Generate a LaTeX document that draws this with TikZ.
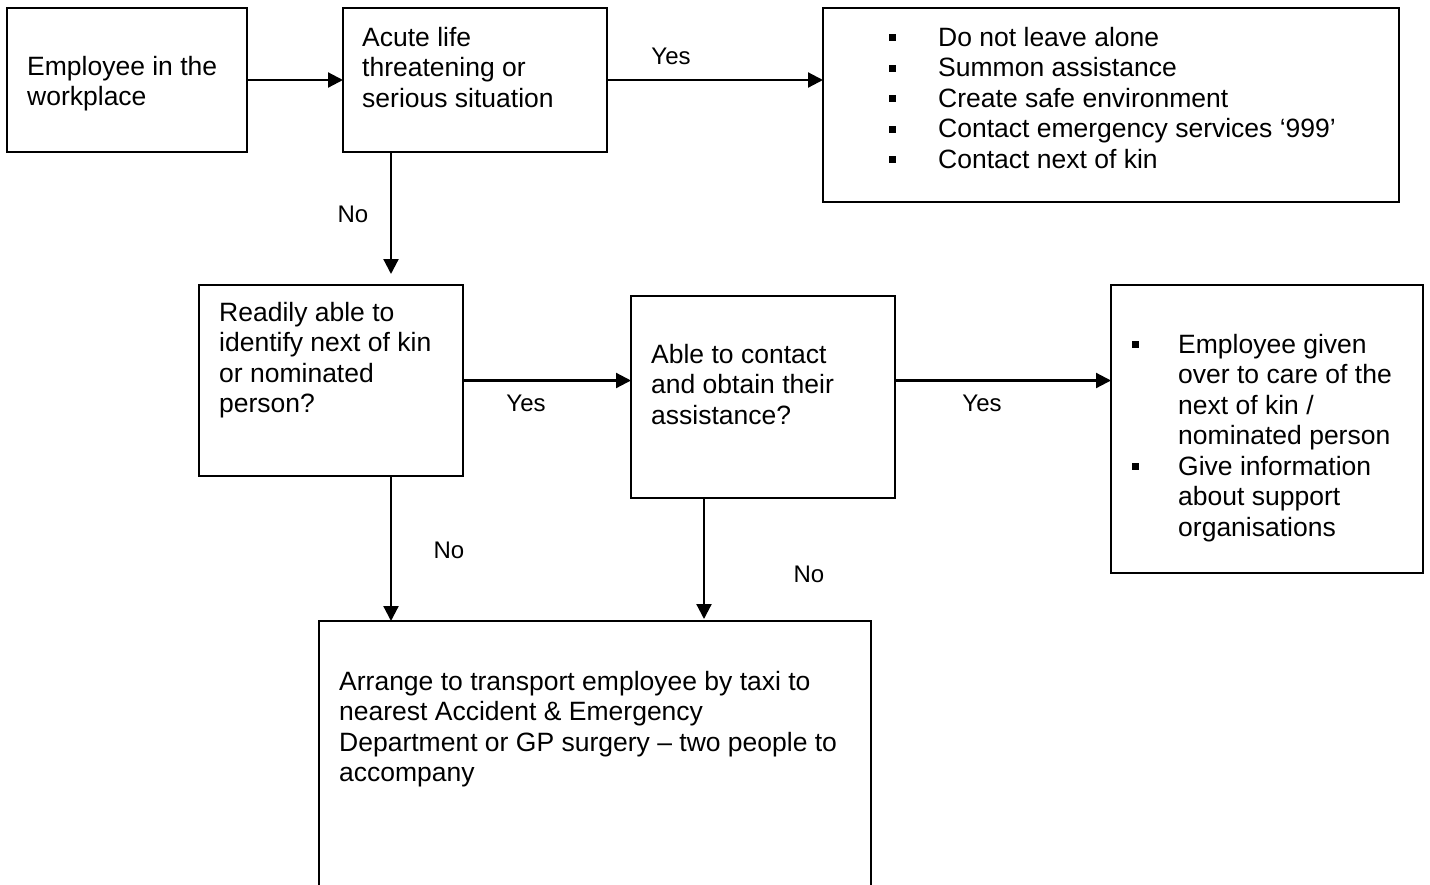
\documentclass[tikz,border=0pt]{standalone}
\usepackage{fontspec}
\setmainfont{Liberation Sans}
\usetikzlibrary{arrows.meta,calc}
\newcommand\mybul{\rule[5pt]{7pt}{7pt}}
\tikzset{
  box/.style={draw, line width=2pt, rectangle, anchor=north west, inner sep=0pt, outer sep=0pt},
  txt/.style={anchor=base west, inner sep=0pt, font=\fontsize{26.5}{30.5}\selectfont},
  lbl/.style={anchor=base, inner sep=0pt, font=\fontsize{24}{28}\selectfont},
  conn/.style={line width=2.2pt, -{Triangle[length=15pt,width=15pt]}},
}
\begin{document}
\begin{tikzpicture}[x=1pt,y=-1pt]
\useasboundingbox (0,0) rectangle (1430,884);
\clip (0,0) rectangle (1430,884);
% boxes
\node[box, minimum width=240pt, minimum height=144pt] (A) at (7,8) {};
\node[box, minimum width=264pt, minimum height=144pt] (B) at (343,8) {};
\node[box, minimum width=576pt, minimum height=194pt] (C) at (823,8) {};
\node[box, minimum width=264pt, minimum height=191pt] (D) at (199,285) {};
\node[box, minimum width=264pt, minimum height=202pt] (E) at (631,296) {};
\node[box, minimum width=312pt, minimum height=288pt] (F) at (1111,285) {};
\node[box, minimum width=552pt, minimum height=300pt] (G) at (319,621) {};
% texts
\node[txt] (At) at (27,75) {\parbox[t]{215pt}{Employee in the\\workplace}};
\node[txt] (Bt) at (362,46) {\parbox[t]{240pt}{Acute life\\threatening or\\serious situation}};
\node[txt] (Ct) at (889,46) {\begin{tabular}[t]{@{}l@{\hspace{42pt}}l@{}}
\mybul & Do not leave alone\\
\mybul & Summon assistance\\
\mybul & Create safe environment\\
\mybul & Contact emergency services `999'\\
\mybul & Contact next of kin
\end{tabular}};
\node[txt] (Dt) at (219,321) {\parbox[t]{240pt}{Readily able to\\identify next of kin\\or nominated\\person?}};
\node[txt] (Et) at (651,363) {\parbox[t]{240pt}{Able to contact\\and obtain their\\assistance?}};
\node[txt] (Ft) at (1132,353) {\begin{tabular}[t]{@{}l@{\hspace{39pt}}l@{}}
\mybul & Employee given\\
 & over to care of the\\
 & next of kin /\\
 & nominated person\\
\mybul & Give information\\
 & about support\\
 & organisations
\end{tabular}};
\node[txt] (Gt) at (339,690) {\parbox[t]{540pt}{Arrange to transport employee by taxi to\\nearest Accident \& Emergency\\Department or GP surgery -- two people to\\accompany}};
% labels
\node[lbl] (l1) at (671,64) {Yes};
\node[lbl] (l2) at (353,222) {No};
\node[lbl] (l3) at (526,411) {Yes};
\node[lbl] (l4) at (982,411) {Yes};
\node[lbl] (l5) at (449,558) {No};
\node[lbl] (l6) at (809,582) {No};
% connectors
\draw[conn] (A.east) -- (B.west);
\draw[conn] (B.east) -- (B.east -| C.west);
\draw[conn] ($(B.south west)+(48,0)$) -- ($(D.north west)+(192,-11)$);
\draw[conn] (D.east) -- (D.east -| E.west);
\draw[conn] (E.east |- D.east) -- (F.west |- D.east);
\draw[conn] ($(D.south west)+(192,0)$) -- ($(G.north west)+(72,0)$);
\draw[conn] ($(E.south west)+(73,0)$) -- ($(G.north west)+(385,-2)$);
\end{tikzpicture}
\end{document}
